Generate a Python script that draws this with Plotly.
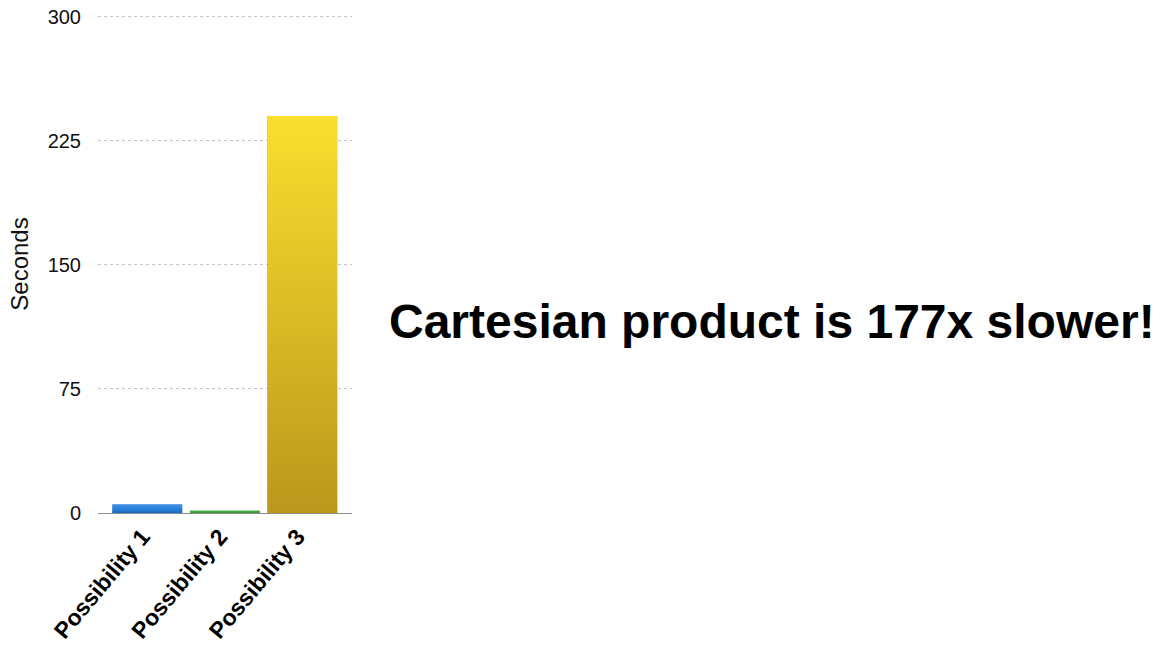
import plotly.graph_objects as go

categories = ["Possibility 1", "Possibility 2", "Possibility 3"]
seconds = [5.2, 1.36, 240]
top_colors = ["#3C95EA", "#4CAF4C", "#FADF2E"]
bottom_colors = ["#1B6AC2", "#349334", "#BB971C"]
y_ticks = [0, 75, 150, 225, 300]
headline = "Cartesian product is 177x slower!"

BAR_W = 0.9
xpos = list(range(len(categories)))

fig = go.Figure()

# base bars (solid)
fig.add_trace(go.Bar(
    x=xpos, y=seconds, width=BAR_W,
    marker=dict(color=bottom_colors, line=dict(width=0)),
    showlegend=False, hoverinfo="skip",
))

# gradient overlay for each bar, derived from the bar values
for i, v in enumerate(seconds):
    x0, x1 = i - BAR_W / 2, i + BAR_W / 2
    fig.add_trace(go.Scatter(
        x=[x0, x0, x1, x1, x0], y=[0, v, v, 0, 0],
        mode="lines", line=dict(width=0),
        fill="toself",
        fillgradient=dict(type="vertical",
                          colorscale=[[0, bottom_colors[i]], [1, top_colors[i]]]),
        name=categories[i], showlegend=False,
        hovertemplate=f"{categories[i]}: %{{y}}<extra></extra>",
    ))

fig.update_layout(
    width=1166, height=645,
    margin=dict(l=98, r=814, t=15, b=132),
    plot_bgcolor="white", paper_bgcolor="white",
    font=dict(family="Liberation Sans, Arial, Helvetica, sans-serif", color="#111"),
    xaxis=dict(
        range=[-0.636, 2.641],
        tickmode="array", tickvals=xpos, ticktext=categories,
        tickangle=-50,
        tickfont=dict(size=23, color="#000", weight="bold",
                      family="Liberation Sans, Arial, sans-serif"),
        ticklabelshift=-5,
        showgrid=False, zeroline=False,
        showline=True, linecolor="#8c8c8c", linewidth=1,
        ticks="", automargin=False,
    ),
    yaxis=dict(
        range=[0, 301],
        tickmode="array", tickvals=y_ticks,
        tickfont=dict(size=20, color="#111"),
        showgrid=True, gridcolor="#c4c4c4", griddash="dot", gridwidth=1,
        zeroline=False, showline=False, ticks="",
        ticklabelstandoff=16, automargin=False,
        title=dict(text="Seconds", font=dict(size=24, color="#111"), standoff=12),
    ),
    annotations=[dict(
        text=f"<b>{headline}</b>",
        xref="paper", yref="paper",
        x=(772 - 98) / 254, y=(513 - 321) / 498,
        xanchor="center", yanchor="middle",
        showarrow=False,
        font=dict(size=48, color="#000", family="Liberation Sans, Arial, sans-serif"),
    )],
)

fig.write_html("out.html")
